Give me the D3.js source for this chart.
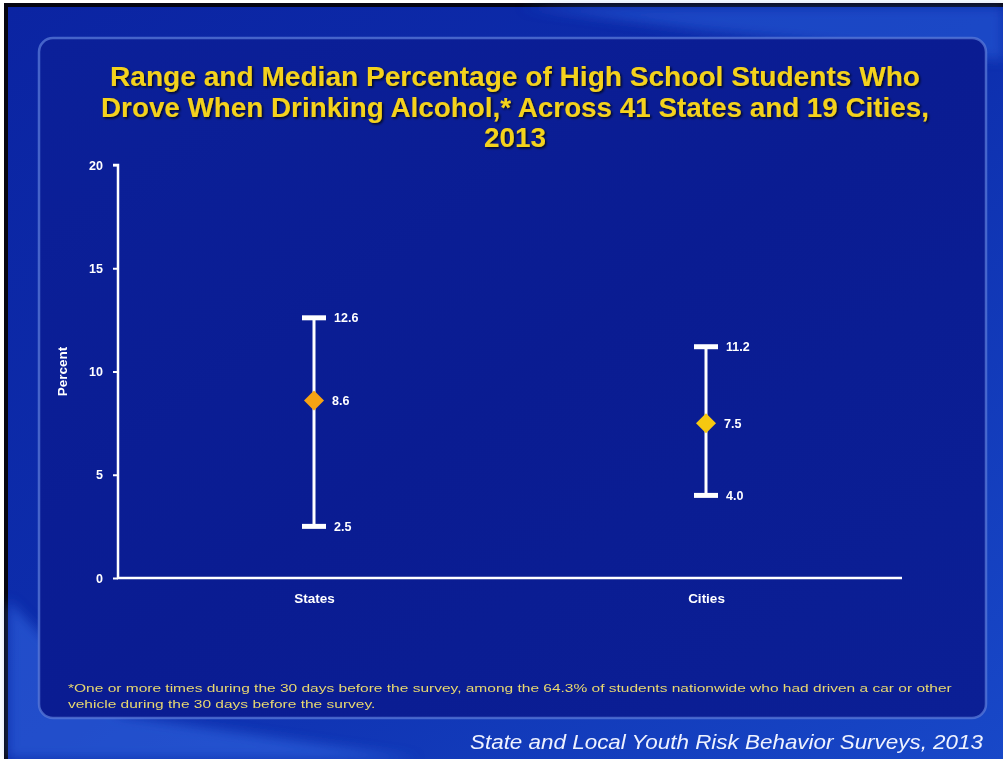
<!DOCTYPE html>
<html><head><meta charset="utf-8">
<script src="https://cdn.jsdelivr.net/npm/d3@7"></script>
<style>html,body{margin:0;padding:0;background:#fff;}svg{display:block;}</style>
</head><body>
<script>
const categories = ["States", "Cities"];
const lows = [2.5, 4.0];
const medians = [8.6, 7.5];
const highs = [12.6, 11.2];
const medianColors = ["#f6a312", "#f6c810"];
const yTicks = [0, 5, 10, 15, 20];
const titleLines = ["Range and Median Percentage of High School Students Who",
  "Drove When Drinking Alcohol,* Across 41 States and 19 Cities,", "2013"];
const footLines = ["*One or more times during the 30 days before the survey, among the 64.3% of students nationwide who had driven a car or other",
  "vehicle during the 30 days before the survey."];
const source = "State and Local Youth Risk Behavior Surveys, 2013";

const W = 1003, H = 759;
const FONT = "Liberation Sans, Arial, sans-serif";
const svg = d3.select("body").append("svg").attr("width", W).attr("height", H);
const defs = svg.append("defs");
const bg = defs.append("linearGradient").attr("id", "bg").attr("x1", 0).attr("y1", 0).attr("x2", 1).attr("y2", 1);
bg.append("stop").attr("offset", "0%").attr("stop-color", "#0b24a2");
bg.append("stop").attr("offset", "50%").attr("stop-color", "#0d2ead");
bg.append("stop").attr("offset", "100%").attr("stop-color", "#1848c8");
const pg = defs.append("linearGradient").attr("id", "pg").attr("x1", 0).attr("y1", 0).attr("x2", 1).attr("y2", 1);
pg.append("stop").attr("offset", "0%").attr("stop-color", "#0b2099");
pg.append("stop").attr("offset", "50%").attr("stop-color", "#0a1c92");
pg.append("stop").attr("offset", "100%").attr("stop-color", "#0b1f95");
const sh = defs.append("filter").attr("id", "sh").attr("x", "-5%").attr("y", "-20%").attr("width", "110%").attr("height", "140%");
sh.append("feDropShadow").attr("dx", 1.5).attr("dy", 1.5).attr("stdDeviation", 0.8).attr("flood-color", "#000").attr("flood-opacity", 0.8);
const blur = defs.append("filter").attr("id", "blur");
blur.append("feGaussianBlur").attr("stdDeviation", 6);

// frame
svg.append("rect").attr("x", 0).attr("y", 0).attr("width", W).attr("height", H).attr("fill", "#fff");
svg.append("rect").attr("x", 4).attr("y", 3).attr("width", W - 4).attr("height", H - 3).attr("fill", "#050510");
svg.append("rect").attr("x", 8).attr("y", 7).attr("width", W - 8).attr("height", H - 7).attr("fill", "url(#bg)");
// soft streaks
const streaks = svg.append("g").attr("filter", "url(#blur)");
streaks.append("path").attr("d", "M520,7 L1003,7 L1003,60 L700,30 Z").attr("fill", "#2f68e4").attr("opacity", 0.45);
streaks.append("path").attr("d", "M8,600 L8,759 L420,759 L120,715 Z").attr("fill", "#3a78f0").attr("opacity", 0.45);

// panel
svg.append("rect").attr("x", 39).attr("y", 38).attr("width", 947).attr("height", 680).attr("rx", 14)
  .attr("fill", "url(#pg)").attr("stroke", "#5a7ad8").attr("stroke-width", 2.5).attr("stroke-opacity", 0.75);

// title
const title = svg.append("text").attr("text-anchor", "middle").attr("font-family", FONT)
  .attr("font-weight", "bold").attr("font-size", 27).attr("fill", "#f4d21c").attr("filter", "url(#sh)");
const tWidths = [810, 828, 62];
titleLines.forEach((t, i) => title.append("tspan").attr("x", 515).attr("y", 86 + i * 30.5)
  .attr("textLength", tWidths[i]).attr("lengthAdjust", "spacingAndGlyphs").text(t));

// scales
const x = d3.scalePoint().domain(categories).range([314, 706]);
const y = d3.scaleLinear().domain([0, 20]).range([578, 165]);

const g = svg.append("g").attr("font-family", FONT);
const yAxis = g.append("g").attr("transform", "translate(118,0)")
  .call(d3.axisLeft(y).tickValues(yTicks).tickSize(5).tickPadding(10).tickFormat(d3.format("d")));
yAxis.select(".domain").attr("stroke", "#fff").attr("stroke-width", 2.5).attr("d", `M-5,${y(20)}H0V${y(0)}`);
yAxis.selectAll(".tick line").attr("stroke", "#fff").attr("stroke-width", 2);
yAxis.selectAll(".tick text").attr("fill", "#fff").attr("font-size", 12.5).attr("font-weight", "bold").attr("font-family", FONT);

const xAxis = g.append("g").attr("transform", `translate(0,${y(0)})`)
  .call(d3.axisBottom(x).tickSize(0).tickPadding(15));
xAxis.select(".domain").attr("stroke", "#fff").attr("stroke-width", 2.5).attr("d", `M117,0H902`);
xAxis.selectAll(".tick text").attr("fill", "#fff").attr("font-size", 13.5).attr("font-weight", "bold").attr("font-family", FONT);

g.append("text").attr("transform", `translate(67,${y(10)}) rotate(-90)`).attr("text-anchor", "middle")
  .attr("fill", "#fff").attr("font-size", 13.5).attr("font-weight", "bold").text("Percent");

// error bars
const data = categories.map((c, i) => ({ c, lo: lows[i], med: medians[i], hi: highs[i], col: medianColors[i] }));
const bars = g.selectAll(".bar").data(data).enter().append("g");
bars.append("line").attr("x1", d => x(d.c)).attr("x2", d => x(d.c)).attr("y1", d => y(d.hi)).attr("y2", d => y(d.lo))
  .attr("stroke", "#fff").attr("stroke-width", 3);
bars.append("line").attr("x1", d => x(d.c) - 12).attr("x2", d => x(d.c) + 12).attr("y1", d => y(d.hi)).attr("y2", d => y(d.hi))
  .attr("stroke", "#fff").attr("stroke-width", 5);
bars.append("line").attr("x1", d => x(d.c) - 12).attr("x2", d => x(d.c) + 12).attr("y1", d => y(d.lo)).attr("y2", d => y(d.lo))
  .attr("stroke", "#fff").attr("stroke-width", 5);
bars.append("path").attr("transform", d => `translate(${x(d.c)},${y(d.med)})`)
  .attr("d", "M0,-10L10,0L0,10L-10,0Z").attr("fill", d => d.col);
const lbl = (sel, key, dx) => sel.append("text").attr("x", d => x(d.c) + dx).attr("y", d => y(d[key])).attr("dy", "0.35em")
  .attr("fill", "#fff").attr("font-size", 12.5).attr("font-weight", "bold").text(d => d3.format(".1f")(d[key]));
lbl(bars, "hi", 20); lbl(bars, "lo", 20); lbl(bars, "med", 18);

// footnote (horizontally stretched like the reference)
const footG = svg.append("g");
const foot = footG.append("text").attr("font-family", FONT).attr("font-size", 11.5).attr("fill", "#e8d870");
footLines.forEach((t, i) => foot.append("tspan").attr("x", 0).attr("y", 0 + i * 16).text(t));
const fw = foot.select("tspan").node().getComputedTextLength();
footG.attr("transform", `translate(68,692) scale(${885 / fw},1)`);

// source
svg.append("text").attr("x", 983).attr("y", 749).attr("text-anchor", "end").attr("font-family", FONT)
  .attr("font-style", "italic").attr("font-size", 20).attr("fill", "#eef2ff")
  .attr("textLength", 513).attr("lengthAdjust", "spacingAndGlyphs").text(source);
</script>
</body></html>
